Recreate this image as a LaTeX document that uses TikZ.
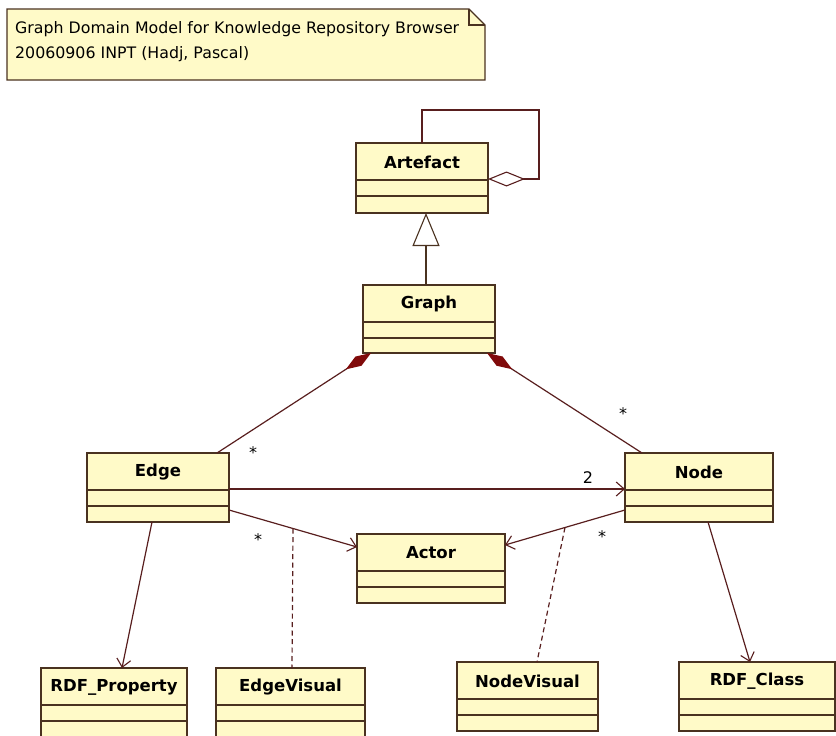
\documentclass[tikz,border=0pt]{standalone}
\usepackage{fontspec}
\setmainfont{DejaVu Sans}
\usetikzlibrary{arrows.meta}
\definecolor{clsfill}{RGB}{255,250,200}
\definecolor{clsline}{RGB}{74,50,32}
\definecolor{conn}{RGB}{88,30,30}
\definecolor{compo}{RGB}{128,10,10}
\tikzset{
  cls/.style={draw=clsline, fill=clsfill, line width=1.4pt, inner sep=0pt, outer sep=0pt, anchor=north west},
  clsname/.style={font=\bfseries\fontsize{16.5}{18}\selectfont, inner sep=0pt, anchor=center},
  divider/.style={draw=clsline, line width=1.4pt},
  assoc/.style={draw=conn, line width=1.2pt},
  navarrow/.style={assoc, -{Straight Barb[length=8pt,width=14pt,line width=1.1pt]}},
  dep/.style={draw=conn, line width=1.2pt, dash pattern=on 5pt off 3.5pt},
  mult/.style={font=\fontsize{16}{18}\selectfont, text=black, inner sep=0pt},
  notetext/.style={anchor=base west, inner sep=0pt, font=\fontsize{15.8}{19}\selectfont},
}
\begin{document}
\begin{tikzpicture}[x=1pt,y=-1pt]
\useasboundingbox (0,0) rectangle (836,736);
% note
\fill[clsfill] (7,9) -- (469,9) -- (485,25) -- (485,80) -- (7,80) -- cycle;
\draw[clsline, line width=1.4pt] (7,9) -- (469,9) -- (485,25) -- (485,80) -- (7,80) -- cycle;
\draw[clsline, line width=1.4pt] (469,9) -- (469,25) -- (485,25);
\node[notetext] (note1) at (15,34) {Graph Domain Model for Knowledge Repository Browser};
\node[notetext] (note2) at (15,58) {20060906 INPT (Hadj, Pascal)};

% classes
\newcommand{\umlcls}[6]{%
  \node[cls, minimum width=#4, minimum height=#5] (#1) at (#2,#3) {};
  \node[clsname] (#1-t) at ([yshift=-19pt]#1.north) {#6};
  \draw[divider] ([yshift=-37pt]#1.north west) -- ([yshift=-37pt]#1.north east);
  \draw[divider] ([yshift=-53pt]#1.north west) -- ([yshift=-53pt]#1.north east);
}
\umlcls{artefact}{356}{143}{132pt}{70pt}{Artefact}
\umlcls{graph}{363}{285}{132pt}{68pt}{Graph}
\umlcls{edge}{87}{453}{142pt}{69pt}{Edge}
\umlcls{nodec}{625}{453}{148pt}{69pt}{Node}
\umlcls{actor}{357}{534}{148pt}{69pt}{Actor}
\umlcls{rdfprop}{41}{668}{146pt}{70pt}{RDF\_Property}
\umlcls{edgevis}{216}{668}{149pt}{70pt}{EdgeVisual}
\umlcls{nodevis}{457}{662}{141pt}{69pt}{NodeVisual}
\umlcls{rdfclass}{679}{662}{156pt}{69pt}{RDF\_Class}

% self aggregation on Artefact
\coordinate (loopc) at (539,110);
\draw[assoc, {Diamond[open, fill=white, length=37pt, width=15pt, line width=1.1pt]}-]
  ([yshift=-36pt]artefact.north east) -| (loopc) -| ([xshift=66pt]artefact.north west);

% generalization Graph -> Artefact
\draw[assoc, draw=clsline, -{Triangle[open, fill=white, length=33pt, width=27pt, line width=1.1pt]}]
  ([xshift=63pt]graph.north west) -- ([xshift=70pt]artefact.south west);

% compositions
\draw[assoc, {Diamond[color=compo, length=30pt, width=11pt]}-]
  ([xshift=8pt]graph.south west) -- ([xshift=130pt]edge.north west);
\draw[assoc, {Diamond[color=compo, length=30pt, width=11pt]}-]
  ([xshift=-8pt]graph.south east) -- ([xshift=17pt]nodec.north west);
\node[mult] (m1) at (253,453) {*};
\node[mult] (m2) at (623,414) {*};

% Edge -> Node
\draw[navarrow] ([yshift=-36pt]edge.north east) -- ([yshift=-36pt]nodec.north west);
\node[mult] (m3) at (588,478) {2};

% Edge -> Actor, Node -> Actor
\draw[navarrow] ([yshift=-57pt]edge.north east) -- ([yshift=-13pt]actor.north west) coordinate[pos=0.5] (ea);
\draw[navarrow] ([yshift=-57pt]nodec.north west) -- ([yshift=-11pt]actor.north east) coordinate[pos=0.5] (na);
\node[mult] (m4) at (258,540) {*};
\node[mult] (m5) at (602,537) {*};

% association class dashed links
\draw[dep] (ea) -- ([xshift=76pt]edgevis.north west);
\draw[dep] (na) -- ([xshift=80pt]nodevis.north west);

% navigations to RDF classes
\draw[navarrow] ([xshift=65pt]edge.south west) -- ([xshift=81pt]rdfprop.north west);
\draw[navarrow] ([xshift=83pt]nodec.south west) -- ([xshift=71pt]rdfclass.north west);
\end{tikzpicture}
\end{document}
